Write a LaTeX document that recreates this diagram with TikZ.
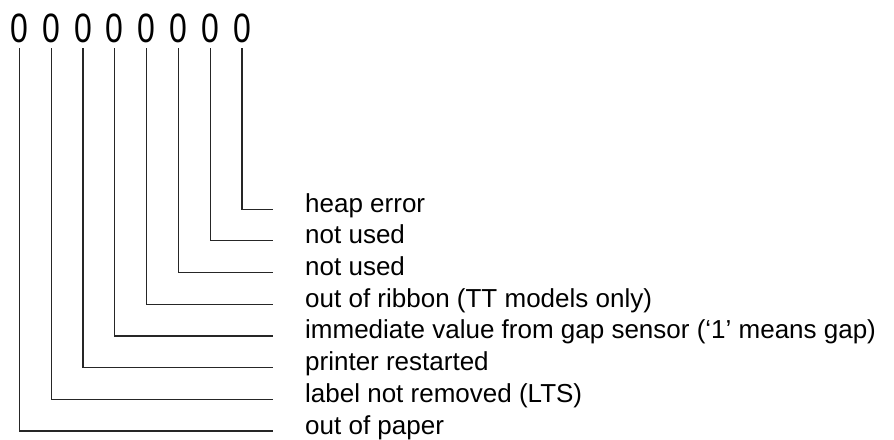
\documentclass[tikz,border=0pt]{standalone}
\usepackage{fontspec}
\setmainfont{Liberation Sans}
\newfontfamily\digitfont[FakeStretch=0.78]{Liberation Sans}
\begin{document}
\begin{tikzpicture}[x=1pt,y=-1pt,
  digit/.style={anchor=base,inner sep=0pt,font=\digitfont\fontsize{41}{41}\selectfont},
  bitlabel/.style={anchor=west,inner ysep=0pt,inner xsep=0pt,text height=12pt,text depth=6pt,
     font=\fontsize{26}{32}\selectfont},
  wire/.style={line width=1.2pt,draw=black!85}]
\useasboundingbox (0,0) rectangle (894,439);
\foreach \i in {0,...,7}{
  \node[digit] (d\i) at ({19.3+31.8*\i},42) {0};
  \coordinate (t\i) at ({19.3+31.8*\i},48);
}
\node[bitlabel] (l7) at (273,209.1) {\hspace{32pt}heap error};
\node[bitlabel] (l6) at (273,240.8) {\hspace{32pt}not used};
\node[bitlabel] (l5) at (273,272.5) {\hspace{32pt}not used};
\node[bitlabel] (l4) at (273,304.2) {\hspace{32pt}out of ribbon (TT models only)};
\node[bitlabel] (l3) at (273,335.9) {\hspace{32pt}immediate value from gap sensor (‘1’ means gap)};
\node[bitlabel] (l2) at (273,367.6) {\hspace{32pt}printer restarted};
\node[bitlabel] (l1) at (273,399.3) {\hspace{32pt}label not removed (LTS)};
\node[bitlabel] (l0) at (273,431.0) {\hspace{32pt}out of paper};
\foreach \i in {0,...,7}{
  \draw[wire] (t\i) |- (l\i.west);
}
\end{tikzpicture}
\end{document}
